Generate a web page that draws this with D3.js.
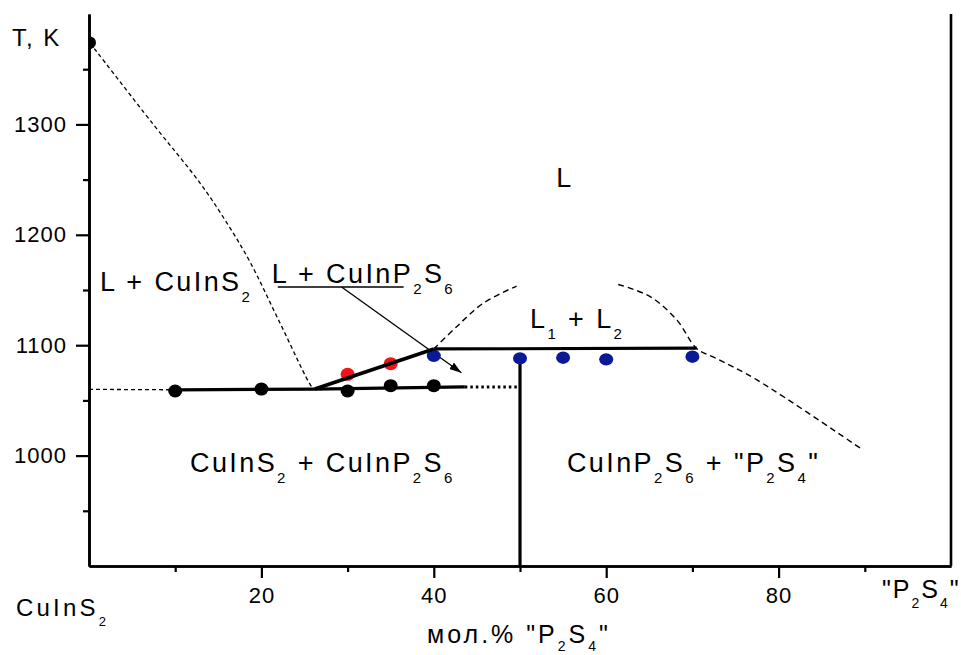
<!DOCTYPE html>
<html>
<head>
<meta charset="utf-8">
<script src="https://cdn.jsdelivr.net/npm/d3@7"></script>
<style>
body{margin:0;background:#fff;}
text{font-family:"Liberation Sans",Arial,sans-serif;fill:#000;}
</style>
</head>
<body>
<div id="main_div"></div>
<script>
let size=[961,655];
let xScale,yScale;

/** composition, mol.% "P2S4" and temperature, K **/
let blackX=[0,10,20,30,35,40];
let blackT=[1374,1058.5,1060.3,1058.5,1063.3,1063.3];
let redX=[30,35];
let redT=[1073.6,1083.3];
let blueX=[40,50,55,60,70];
let blueT=[1090.4,1088.1,1088.7,1087.2,1089.6];

/** liquidus of CuInS2 (dashed) **/
let liqX=[0.12,7.42,12.88,15.78,18.68,22.16,25.87,26.2];
let liqT=[1373.7,1300.4,1246.9,1213.4,1175.4,1120.1,1062.1,1060.3];
/** immiscibility dome branches (dashed) **/
let domeLX=[40,42.65,45.7,49.6];
let domeLT=[1096.6,1116.8,1137.9,1153.6];
let domeRX=[61.4,65.1,68.2,70.5,72.8,77.5,89.8];
let domeRT=[1155,1144,1122.8,1097,1088,1068.5,1005];
/** solid lines **/
let eutDashX=[0,10];
let eutDashT=[1060,1059.6];
let eutX=[10,26.2,43.6];
let eutT=[1059.5,1060.3,1062.2];
let eutDotX=[43.6,50];
let eutDotT=[1062.2,1062.2];
let riseX=[26.2,40];
let riseT=[1060.3,1096.6];
let monoX=[40,70.5];
let monoT=[1096.6,1097.3];
let vertX=[50,50];
let vertT=[1088,900];

let xMajor=[20,40,60,80];
let xMinor=[10,30,50,70,90];
let yMajor=[1000,1100,1200,1300];
let yMinor=[950,1050,1150,1250,1350];

let regionLabels=["L","L + CuInS_2","L + CuInP_2S_6","L_1 + L_2","CuInS_2 + CuInP_2S_6","CuInP_2S_6 + \"P_2S_4\""];

createSVG();
drawAxes();
drawLines();
drawPoints();
drawLabels();

function createSVG(){
    d3.select("#main_div")
    .append("svg")
    .attr("width",size[0])
    .attr("height",size[1])
    .attr("id","main_svg");

    xScale=d3.scaleLinear().domain([0,100]).range([89,951]);
    yScale=d3.scaleLinear().domain([900,1400]).range([566,14]);

    d3.select("#main_svg").append("defs")
        .append("clipPath").attr("id","plotclip")
        .append("rect")
        .attr("x",xScale(0)).attr("y",yScale(1400))
        .attr("width",xScale(100)-xScale(0)).attr("height",yScale(900)-yScale(1400));

    d3.select("#main_svg").select("defs")
        .append("marker")
        .attr("id","arrow")
        .attr("viewBox","0 0 12 8")
        .attr("refX",12).attr("refY",4)
        .attr("markerWidth",12).attr("markerHeight",8)
        .attr("markerUnits","userSpaceOnUse")
        .attr("orient","auto")
        .append("path").attr("d","M0,0L12,4L0,8Z").attr("fill","#000");
}

function styleAxis(g,fs,ls){
    g.select(".domain").attr("stroke","#000").attr("stroke-width",2.6);
    g.selectAll(".tick line").attr("stroke","#000").attr("stroke-width",2.2);
    g.selectAll(".tick text").attr("fill","#000")
        .style("font-size",fs+"px").style("letter-spacing",ls+"px")
        .style("font-family","Liberation Sans, Arial, sans-serif");
}

function drawAxes(){
    let svg=d3.select("#main_svg");

    let xMinorAxis=d3.axisBottom(xScale).tickValues(xMinor).tickSize(6).tickSizeOuter(0).tickFormat("");
    let xAxis=d3.axisBottom(xScale).tickValues(xMajor).tickSize(12).tickSizeOuter(0).tickPadding(9).tickFormat(d3.format("d"));
    let yMinorAxis=d3.axisLeft(yScale).tickValues(yMinor).tickSize(6).tickSizeOuter(0).tickFormat("");
    let yAxis=d3.axisLeft(yScale).tickValues(yMajor).tickSize(13).tickSizeOuter(0).tickPadding(9).tickFormat(d3.format("d"));

    let gx=svg.append("g").attr("transform","translate(0,"+yScale(900)+")");
    gx.call(xMinorAxis); styleAxis(gx,22,1);
    let gx2=svg.append("g").attr("transform","translate(0,"+yScale(900)+")");
    gx2.call(xAxis); styleAxis(gx2,22,1);

    let gy=svg.append("g").attr("transform","translate("+xScale(0)+",0)");
    gy.call(yMinorAxis); styleAxis(gy,22,1);
    let gy2=svg.append("g").attr("transform","translate("+xScale(0)+",0)");
    gy2.call(yAxis); styleAxis(gy2,22,1);

    /**right border**/
    svg.append("line")
        .attr("x1",xScale(100)).attr("x2",xScale(100))
        .attr("y1",yScale(1400)).attr("y2",yScale(900))
        .attr("stroke","#000").attr("stroke-width",2.6);
}

function pathOf(xs,ts,curve){
    let line=d3.line()
        .x(function(d){return xScale(d[0])})
        .y(function(d){return yScale(d[1])})
        .curve(curve||d3.curveLinear);
    return line(xs.map(function(v,i){return [v,ts[i]]}));
}

function drawLines(){
    let g=d3.select("#main_svg").append("g").attr("id","lines");

    g.append("path").attr("d",pathOf(liqX,liqT,d3.curveCatmullRom))
        .attr("fill","none").attr("stroke","#000").attr("stroke-width",1.3).attr("stroke-dasharray","4,3");
    g.append("path").attr("d",pathOf(domeLX,domeLT,d3.curveCatmullRom))
        .attr("fill","none").attr("stroke","#000").attr("stroke-width",1.4).attr("stroke-dasharray","6,4");
    g.append("path").attr("d",pathOf(domeRX,domeRT,d3.curveCatmullRom))
        .attr("fill","none").attr("stroke","#000").attr("stroke-width",1.4).attr("stroke-dasharray","6,4");
    g.append("path").attr("d",pathOf(eutDashX,eutDashT))
        .attr("fill","none").attr("stroke","#000").attr("stroke-width",1.3).attr("stroke-dasharray","4,3");

    g.append("path").attr("d",pathOf(eutX,eutT))
        .attr("fill","none").attr("stroke","#000").attr("stroke-width",3.2);
    g.append("path").attr("d",pathOf(eutDotX,eutDotT))
        .attr("fill","none").attr("stroke","#000").attr("stroke-width",3).attr("stroke-dasharray","2.5,3");
    g.append("path").attr("d",pathOf(vertX,vertT))
        .attr("fill","none").attr("stroke","#000").attr("stroke-width",3.2);

    /**underline and pointer of the L + CuInP2S6 label**/
    g.append("line")
        .attr("x1",xScale(21.9)).attr("x2",xScale(36.5))
        .attr("y1",yScale(1152.7)).attr("y2",yScale(1152.7))
        .attr("stroke","#000").attr("stroke-width",1.3);
    g.append("line")
        .attr("x1",xScale(29.3)).attr("y1",yScale(1152.7))
        .attr("x2",xScale(43.2)).attr("y2",yScale(1075))
        .attr("stroke","#000").attr("stroke-width",1.3)
        .attr("marker-end","url(#arrow)");
}

function drawPoints(){
    let plot=d3.select("#main_svg").append("g").attr("id","plots").attr("clip-path","url(#plotclip)");

    plot.selectAll(".black")
        .data(blackX.map(function(v,i){return [v,blackT[i]]}))
        .enter().append("ellipse").attr("class","black")
        .attr("cx",function(d){return xScale(d[0])})
        .attr("cy",function(d){return yScale(d[1])})
        .attr("rx",7).attr("ry",6.5).attr("fill","#000");

    plot.selectAll(".red")
        .data(redX.map(function(v,i){return [v,redT[i]]}))
        .enter().append("ellipse").attr("class","red")
        .attr("cx",function(d){return xScale(d[0])})
        .attr("cy",function(d){return yScale(d[1])})
        .attr("rx",7).attr("ry",6.5).attr("fill","#f0141a");

    plot.selectAll(".blue")
        .data(blueX.map(function(v,i){return [v,blueT[i]]}))
        .enter().append("ellipse").attr("class","blue")
        .attr("cx",function(d){return xScale(d[0])})
        .attr("cy",function(d){return yScale(d[1])})
        .attr("rx",7).attr("ry",6.2).attr("fill","#0a1a96");

    /**thick lines drawn over the dots where they cross**/
    d3.select("#main_svg").append("path").attr("d",pathOf(riseX,riseT))
        .attr("fill","none").attr("stroke","#000").attr("stroke-width",3.6);
    d3.select("#main_svg").append("path").attr("d",pathOf(monoX,monoT))
        .attr("fill","none").attr("stroke","#000").attr("stroke-width",3.2);
}

/** text with "_x" marking a subscript character **/
function addText(str,px,py,fs,ls,shiftK){
    let sub=Math.round(fs*0.55), shift=Math.round(fs*(shiftK||0.4));
    let t=d3.select("#main_svg").append("text")
        .attr("x",px).attr("y",py)
        .style("font-size",fs+"px").style("letter-spacing",ls+"px");
    let parts=str.split(/(_.)/).filter(function(p){return p.length>0});
    let down=false;
    parts.forEach(function(p){
        if(p[0]=="_"){
            t.append("tspan").attr("dy",down?0:shift).style("font-size",sub+"px").text(p[1]);
            down=true;
        } else {
            t.append("tspan").attr("dy",down?-shift:0).text(p);
            down=false;
        }
    });
    return t;
}

function drawLabels(){
    addText(regionLabels[0],xScale(54.2),yScale(1243.3),27,2.4);
    addText(regionLabels[1],xScale(1.28),yScale(1149.4),27,2.4);
    addText(regionLabels[2],xScale(21.2),yScale(1156.3),27,2.4);
    addText(regionLabels[3],xScale(51.16),yScale(1115.6),27,2.4);
    addText(regionLabels[4],xScale(11.72),yScale(985.1),27,2.4);
    addText(regionLabels[5],xScale(55.45),yScale(985.1),27,2.4);

    addText("T, K",12,46,24,2);
    addText("CuInS_2",16,616,24,3.2);
    addText("\"P_2S_4\"",882,598,25,2);
    addText("мол.% \"P_2S_4\"",427,643,25,3,0.3);
}
</script>
</body>
</html>
